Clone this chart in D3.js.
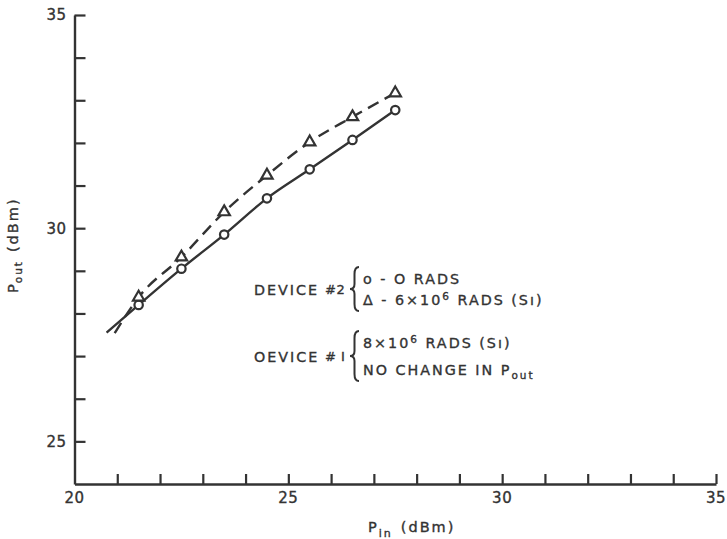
<!DOCTYPE html>
<html>
<head>
<meta charset="utf-8">
<script src="https://cdn.jsdelivr.net/npm/d3@7"></script>
<style>
  body { margin: 0; background: #fff; }
  svg { display: block; font-family: "DejaVu Sans", sans-serif; }
  text { stroke: #333; stroke-width: 0.35px; }
</style>
</head>
<body>
<svg id="chart" width="727" height="539"></svg>
<script>
// Input power (dBm) at each measured point
const pIn = [21.5, 22.5, 23.5, 24.5, 25.5, 26.5, 27.5];
// Output power of device #2 before irradiation (circles)
const pOutUnirradiated = [28.2, 29.05, 29.85, 30.7, 31.38, 32.07, 32.77];
// Output power of device #2 after 6x10^6 rads (triangles)
const pOutIrradiated = [28.38, 29.32, 30.38, 31.24, 32.02, 32.61, 33.17];
// Start of each faired curve, below the first measurement
const leadInUnirradiated = [20.75, 27.55];
const leadInIrradiated = [20.94, 27.54];

// Axis ticks and labels
const xTickValues = d3.range(21, 36);
const yTickValues = d3.range(25, 36);
const xTickLabels = [20, 25, 30, 35];
const yTickLabels = [25, 30, 35];

// Legend blocks: device name, then two lines of [text, kind] pieces
const legendBlocks = [
  { device: "DEVICE", num: "#2", lines: [
      [["o - O RADS", ""]],
      [["\u0394 - 6\u00d710", ""], ["6", "sup"], [" RADS (S\u0131)", ""]]
  ]},
  { device: "OEVICE", num: "# I", lines: [
      [["8\u00d710", ""], ["6", "sup"], [" RADS (S\u0131)", ""]],
      [["NO CHANGE IN P", ""], ["out", "sub"]]
  ]}
];

const ink = "#333";
const svg = d3.select("#chart");

const x = d3.scaleLinear().domain([20, 35]).range([74.5, 716]);
const y = d3.scaleLinear().domain([24, 35]).range([484, 15]);

// Axes with ticks pointing into the plot
const xAxis = d3.axisBottom(x)
  .tickValues(xTickValues)
  .tickSizeInner(-10).tickSizeOuter(0)
  .tickFormat("");
const yAxis = d3.axisLeft(y)
  .tickValues(yTickValues)
  .tickSizeInner(-11).tickSizeOuter(0)
  .tickFormat("");

const gx = svg.append("g").attr("transform", `translate(0,${y(24)})`).call(xAxis);
const gy = svg.append("g").attr("transform", `translate(${x(20)},0)`).call(yAxis);
[gx, gy].forEach(g => {
  g.select(".domain").attr("stroke", ink).attr("stroke-width", 2.4);
  g.selectAll(".tick line").attr("stroke", ink).attr("stroke-width", 2.2);
});

const labelFont = 15;
svg.append("g").selectAll("text").data(xTickLabels).join("text")
  .attr("x", d => x(d))
  .attr("y", y(24) + 19)
  .attr("text-anchor", "middle")
  .attr("font-size", labelFont)
  .attr("letter-spacing", 0.5)
  .attr("fill", ink)
  .text(d => d);

svg.append("g").selectAll("text").data(yTickLabels).join("text")
  .attr("x", x(20) - 8)
  .attr("y", d => y(d))
  .attr("dy", "0.36em")
  .attr("text-anchor", "end")
  .attr("font-size", labelFont)
  .attr("letter-spacing", 0.5)
  .attr("fill", ink)
  .text(d => d);

// Axis titles
const xTitle = svg.append("text")
  .attr("x", 368).attr("y", 532)
  .attr("font-size", 14.5).attr("fill", ink)
  .attr("letter-spacing", 2);
xTitle.append("tspan").text("P");
xTitle.append("tspan").attr("font-size", 11).attr("dy", 5).attr("dx", 0).text("in");
xTitle.append("tspan").attr("dy", -5).attr("dx", 8).text("(dBm)");

const yTitle = svg.append("text")
  .attr("transform", "translate(18,293) rotate(-90)")
  .attr("font-size", 14.5).attr("fill", ink)
  .attr("letter-spacing", 2);
yTitle.append("tspan").text("P");
yTitle.append("tspan").attr("font-size", 10.5).attr("dy", 4).attr("dx", -1).text("out");
yTitle.append("tspan").attr("dy", -4).attr("dx", 8).text("(dBm)");

// Faired curves through the measurements
const ptsA = [leadInUnirradiated].concat(pIn.map((v, i) => [v, pOutUnirradiated[i]]));
const ptsB = [leadInIrradiated].concat(pIn.map((v, i) => [v, pOutIrradiated[i]]));
const line = d3.line().x(d => x(d[0])).y(d => y(d[1])).curve(d3.curveMonotoneX);

svg.append("path").attr("d", line(ptsA))
  .attr("fill", "none").attr("stroke", ink).attr("stroke-width", 2.4);
svg.append("path").attr("d", line(ptsB))
  .attr("fill", "none").attr("stroke", ink).attr("stroke-width", 2.4)
  .attr("stroke-dasharray", "12,7");

// Markers
svg.append("g").selectAll("circle").data(pIn).join("circle")
  .attr("cx", d => x(d))
  .attr("cy", (d, i) => y(pOutUnirradiated[i]))
  .attr("r", 4.2)
  .attr("fill", "#fff").attr("stroke", ink).attr("stroke-width", 2.2);

const tri = d3.symbol().type(d3.symbolTriangle).size(56);
svg.append("g").selectAll("path").data(pIn).join("path")
  .attr("d", tri)
  .attr("transform", (d, i) => `translate(${x(d)},${y(pOutIrradiated[i])})`)
  .attr("fill", "#fff").attr("stroke", ink).attr("stroke-width", 2.2);

// Legend with curly braces
function brace(bx, y0, y1) {
  const w = 9, m = (y0 + y1) / 2, h = w / 2;
  return `M${bx + w},${y0} Q${bx + h},${y0} ${bx + h},${y0 + 7} L${bx + h},${m - 5}` +
         ` Q${bx + h},${m} ${bx},${m} Q${bx + h},${m} ${bx + h},${m + 5}` +
         ` L${bx + h},${y1 - 7} Q${bx + h},${y1} ${bx + w},${y1}`;
}

const legendTop = [279, 343];
const rowGap = [21, 27];
legendBlocks.forEach((b, k) => {
  const r1 = legendTop[k], r2 = r1 + rowGap[k], mid = (r1 + r2) / 2;
  const g = svg.append("g").attr("fill", ink).attr("font-size", 14.3).attr("letter-spacing", 2);
  g.append("text").attr("x", 254).attr("y", mid).attr("dy", "0.36em").text(b.device);
  g.append("text").attr("x", 325).attr("y", mid).attr("dy", "0.36em")
    .attr("font-size", 13).attr("letter-spacing", 0.5).text(b.num);
  svg.append("path").attr("d", brace(350, r1 - 12, r2 + 11))
    .attr("fill", "none").attr("stroke", ink).attr("stroke-width", 2);
  [r1, r2].forEach((ry, j) => {
    const t = g.append("text").attr("x", 363).attr("y", ry).attr("dy", "0.36em");
    b.lines[j].forEach(([s, kind]) => {
      const sp = t.append("tspan").text(s);
      if (kind === "sup") sp.attr("font-size", 10.5).attr("dy", -5);
      else if (kind === "sub") sp.attr("font-size", 10.5).attr("dy", 4);
      else if (t.selectAll("tspan").size() > 1) sp.attr("dy", 5);
    });
  });
});
</script>
</body>
</html>
